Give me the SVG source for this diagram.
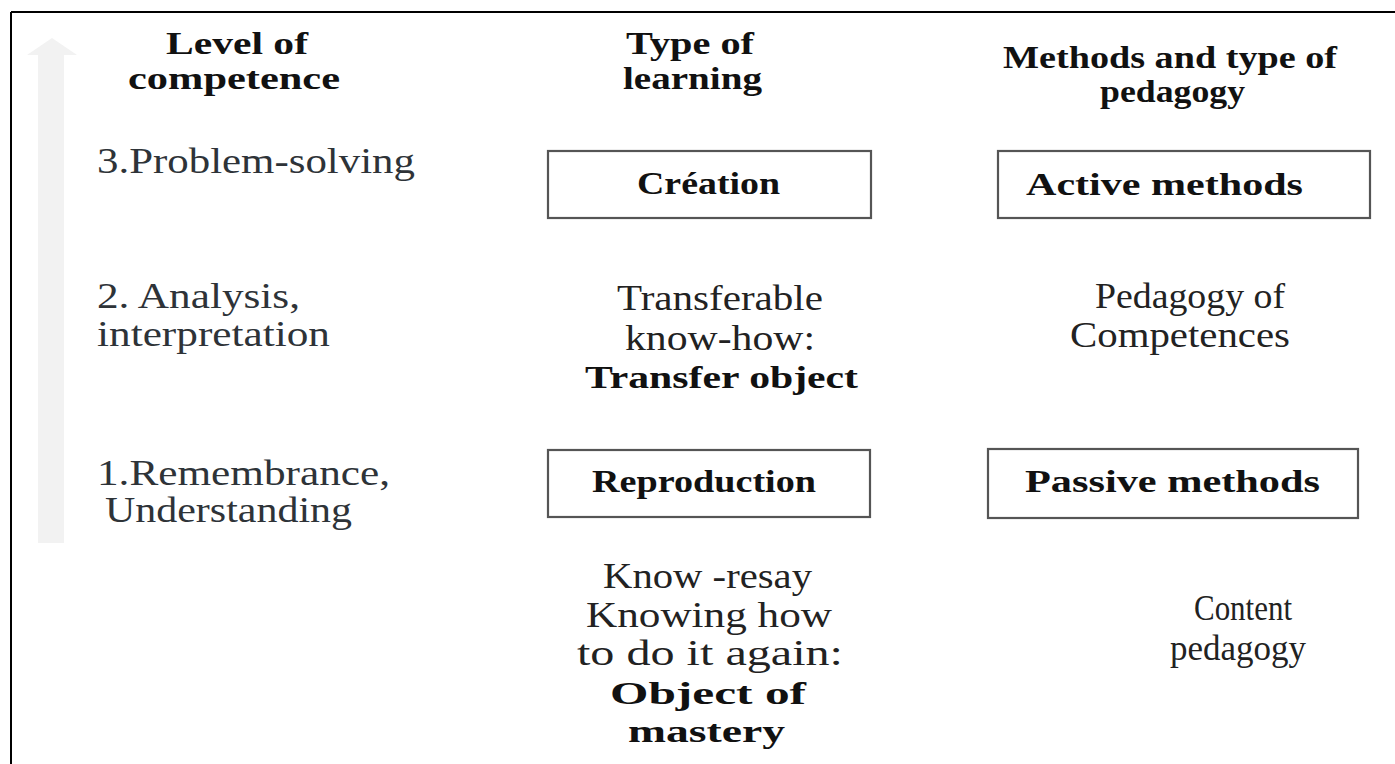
<svg xmlns="http://www.w3.org/2000/svg" width="1395" height="764" viewBox="0 0 1395 764">
<style>
.r{font-family:"Liberation Serif","Times New Roman",serif;font-size:35px;fill:#222}
.c1{fill:#2e3338}
.b{font-family:"Liberation Serif","Times New Roman",serif;font-size:32px;font-weight:bold;fill:#111}
.box{fill:#fff;stroke:#555;stroke-width:2.2}
</style>
<rect width="1395" height="764" fill="#fff"/>
<g id="frame">
<line x1="11" y1="12" x2="1395" y2="12" stroke="#000" stroke-width="2"/>
<line x1="11" y1="12" x2="11" y2="764" stroke="#000" stroke-width="2"/>
</g>
<g id="arrow">
<polygon points="52,38 77,55 64,55 64,543 38,543 38,55 27,55" fill="#f2f2f2"/>
</g>
<g id="headers">
<text class="b" x="166" y="54" textLength="142" lengthAdjust="spacingAndGlyphs">Level of</text>
<text class="b" x="128" y="89" textLength="212" lengthAdjust="spacingAndGlyphs">competence</text>
<text class="b" x="626" y="54" textLength="128" lengthAdjust="spacingAndGlyphs">Type of</text>
<text class="b" x="623" y="89" textLength="139" lengthAdjust="spacingAndGlyphs">learning</text>
<text class="b" x="1003" y="68" textLength="334" lengthAdjust="spacingAndGlyphs">Methods and type of</text>
<text class="b" x="1100" y="102" textLength="145" lengthAdjust="spacingAndGlyphs">pedagogy</text>
</g>
<g id="level3">
<text class="r c1" x="97" y="173" textLength="318" lengthAdjust="spacingAndGlyphs">3.Problem-solving</text>
</g>
<g id="level2">
<text class="r c1" x="97" y="308" textLength="203" lengthAdjust="spacingAndGlyphs">2. Analysis,</text>
<text class="r c1" x="97" y="346" textLength="233" lengthAdjust="spacingAndGlyphs">interpretation</text>
</g>
<g id="level1">
<text class="r c1" x="97" y="485" textLength="293" lengthAdjust="spacingAndGlyphs">1.Remembrance,</text>
<text class="r c1" x="105" y="522" textLength="247" lengthAdjust="spacingAndGlyphs">Understanding</text>
</g>
<g id="creation">
<rect class="box" x="548" y="151" width="323" height="67"/>
<text class="b" x="637" y="194" textLength="143" lengthAdjust="spacingAndGlyphs">Création</text>
</g>
<g id="active">
<rect class="box" x="998" y="151" width="372" height="67"/>
<text class="b" x="1026" y="195" textLength="277" lengthAdjust="spacingAndGlyphs">Active methods</text>
</g>
<g id="transfer">
<text class="r" x="617" y="310" textLength="206" lengthAdjust="spacingAndGlyphs">Transferable</text>
<text class="r" x="625" y="350" textLength="190" lengthAdjust="spacingAndGlyphs">know-how:</text>
<text class="b" x="585" y="388" textLength="273" lengthAdjust="spacingAndGlyphs">Transfer object</text>
</g>
<g id="competences">
<text class="r" x="1095" y="308" textLength="190" lengthAdjust="spacingAndGlyphs">Pedagogy of</text>
<text class="r" x="1070" y="347" textLength="220" lengthAdjust="spacingAndGlyphs">Competences</text>
</g>
<g id="reproduction">
<rect class="box" x="548" y="450" width="322" height="67"/>
<text class="b" x="592" y="492" textLength="224" lengthAdjust="spacingAndGlyphs">Reproduction</text>
</g>
<g id="passive">
<rect class="box" x="988" y="449" width="370" height="69"/>
<text class="b" x="1025" y="492" textLength="295" lengthAdjust="spacingAndGlyphs">Passive methods</text>
</g>
<g id="mastery">
<text class="r" x="603" y="588" textLength="209" lengthAdjust="spacingAndGlyphs">Know -resay</text>
<text class="r" x="586" y="627" textLength="246" lengthAdjust="spacingAndGlyphs">Knowing how</text>
<text class="r" x="577" y="665" textLength="266" lengthAdjust="spacingAndGlyphs">to do it again:</text>
<text class="b" x="610" y="704" textLength="196" lengthAdjust="spacingAndGlyphs">Object of</text>
<text class="b" x="628" y="742" textLength="157" lengthAdjust="spacingAndGlyphs">mastery</text>
</g>
<g id="content">
<text class="r" x="1194" y="620" textLength="98" lengthAdjust="spacingAndGlyphs">Content</text>
<text class="r" x="1170" y="660" textLength="136" lengthAdjust="spacingAndGlyphs">pedagogy</text>
</g>
<g id="connectors"></g>
</svg>
